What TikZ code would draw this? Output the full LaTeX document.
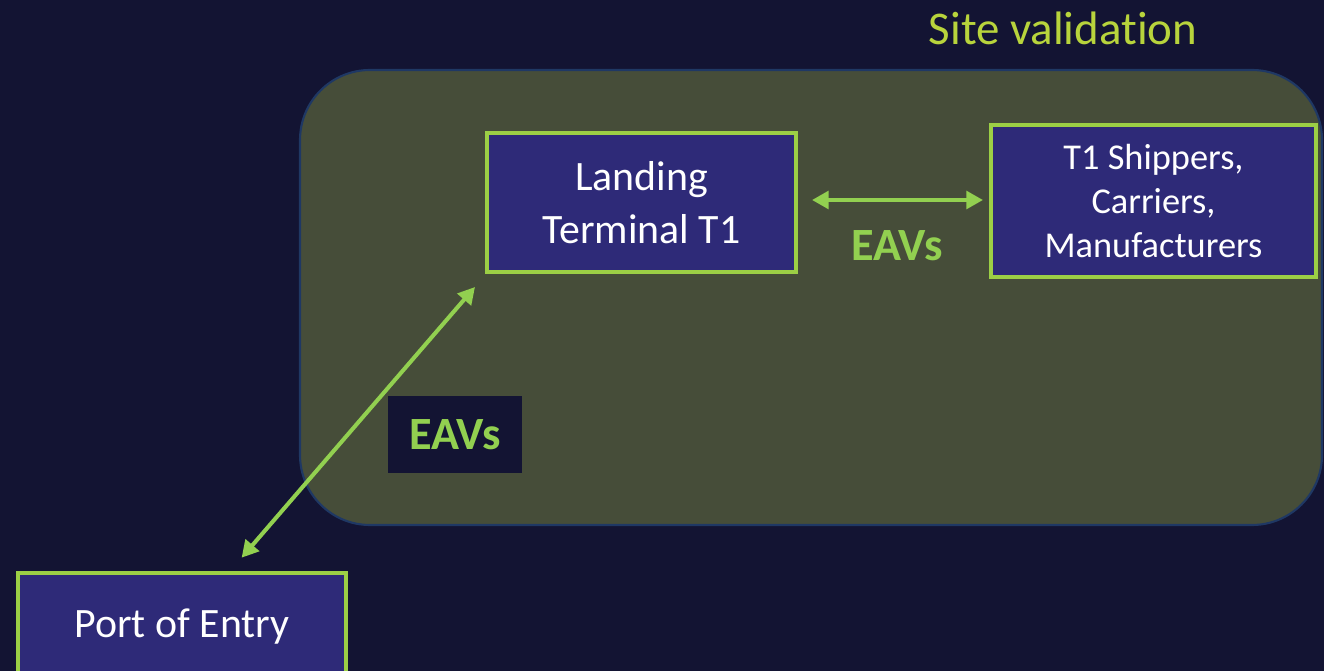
\documentclass[tikz,border=0pt]{standalone}
\usepackage{fontspec}
\setmainfont{Carlito}[Ligatures=NoCommon]
\usetikzlibrary{arrows.meta}

\definecolor{navybg}{HTML}{131433}
\definecolor{sitefill}{HTML}{464D39}
\definecolor{siteedge}{HTML}{1F3864}
\definecolor{boxfill}{HTML}{2E2A78}
\definecolor{boxedge}{HTML}{9CCF45}
\definecolor{eavgreen}{HTML}{92D050}
\definecolor{titlegreen}{HTML}{B8D43C}

\begin{document}
\begin{tikzpicture}[x=0.02cm,y=-0.02cm,
  party/.style={draw=boxedge,line width=2.3pt,fill=boxfill,text=white,inner sep=0pt,align=center},
  eavs/.style={text=eavgreen,font=\bfseries\fontsize{26.3}{31}\selectfont},
  eav arrow/.style={draw=eavgreen,line width=2.3pt,{Triangle[length=9.5pt,width=10pt]}-{Triangle[length=9.5pt,width=10pt]}}]

% Background
\fill[navybg] (0,0) rectangle (1324,671);
\useasboundingbox (0,0) rectangle (1324,671);

% Site area
\draw[fill=sitefill,draw=siteedge,line width=1.2pt,rounded corners=1.4cm] (300,70) rectangle (1322,525);
\node[text=titlegreen,font=\fontsize{26.7}{32}\selectfont] (title) at (1063,28) {Site validation};

% Parties
\node[party,minimum width=6.18cm,minimum height=2.78cm,font=\fontsize{23.8}{29.8}\selectfont] (landing) at (641.5,202.5) {Landing\\Terminal T1};
\node[party,minimum width=6.5cm,minimum height=3.04cm,font=\fontsize{20.7}{25.3}\selectfont] (shippers) at (1153.5,201) {T1 Shippers,\\Carriers,\\Manufacturers};
\node[party,minimum width=6.56cm,minimum height=2.16cm,font=\fontsize{23.8}{29}\selectfont] (port) at (182,627) {Port of Entry};

% Arrow end near the terminal
\coordinate (dock) at (475,287);

% EAV exchanges
\draw[eav arrow,shorten <=0.28cm,shorten >=0.12cm] (landing.east |- 0,200) -- (shippers.west |- 0,200);
\draw[eav arrow,shorten <=0.35cm] (port) -- (dock);

% Labels
\node[eavs] (eavtop) at (897,246) {EAVs};
\node[eavs,fill=navybg,minimum width=2.68cm,minimum height=1.54cm] (eavside) at (455,434.5) {EAVs};

\end{tikzpicture}
\end{document}
